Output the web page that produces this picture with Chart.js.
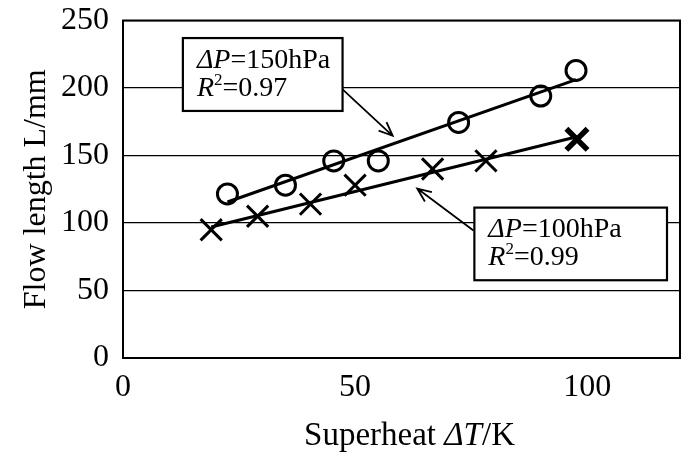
<!DOCTYPE html>
<html>
<head>
<meta charset="utf-8">
<script src="https://cdn.jsdelivr.net/npm/chart.js@4.4.1/dist/chart.umd.min.js"></script>
<style>
	html, body { margin: 0; padding: 0; background: #fff; overflow: hidden; }
	canvas { display: block; }
</style>
</head>
<body>
<canvas id="chart" width="688" height="457"></canvas>
<script>
// values
const dp150X = [22.5, 35, 45.4, 55, 72.3, 90, 97.6];
const dp150Y = [121.5, 128, 146, 146, 174.5, 194, 213];
const dp100X = [19, 29, 40.4, 50, 66.7, 78.2, 97.8];
const dp100Y = [95, 105, 114, 128, 140, 146, 162];
const xTicks = [0, 50, 100];
const yTicks = [0, 50, 100, 150, 200, 250];
const xTitle = [{ t: 'Superheat ' }, { t: 'ΔT', i: true }, { t: '/K' }];
const yTitle = 'Flow length L/mm';
const noteLabels = [
	[[{ t: 'ΔP', i: true }, { t: '=150hPa' }], [{ t: 'R', i: true }, { t: '2', sup: true }, { t: '=0.97' }]],
	[[{ t: 'ΔP', i: true }, { t: '=100hPa' }], [{ t: 'R', i: true }, { t: '2', sup: true }, { t: '=0.99' }]]
];

const SERIF = '"Liberation Serif", "Times New Roman", serif';
const PLOT_RIGHT = 680; // right edge of the frame in the original

function toPoints(xs, ys) {
	return xs.map((x, i) => ({ x: x, y: ys[i] }));
}

// least squares line, like the excel trendline
function trend(xs, ys) {
	const n = xs.length;
	const mx = xs.reduce((a, b) => a + b, 0) / n;
	const my = ys.reduce((a, b) => a + b, 0) / n;
	let sxy = 0, sxx = 0;
	for (let i = 0; i < n; i++) {
		sxy += (xs[i] - mx) * (ys[i] - my);
		sxx += (xs[i] - mx) * (xs[i] - mx);
	}
	const b = sxy / sxx;
	const a = my - b * mx;
	const x0 = Math.min(...xs), x1 = Math.max(...xs);
	return [{ x: x0, y: a + b * x0 }, { x: x1, y: a + b * x1 }];
}

// draws a run of text pieces, italic / superscript per piece
function drawRich(ctx, segs, x, y, size) {
	segs.forEach(seg => {
		const s = seg.sup ? Math.round(size * 0.6) : size;
		ctx.font = (seg.i ? 'italic ' : '') + s + 'px ' + SERIF;
		ctx.fillText(seg.t, x, seg.sup ? y - size * 0.3 : y);
		x += ctx.measureText(seg.t).width;
	});
}

function richWidth(ctx, segs, size) {
	let w = 0;
	segs.forEach(seg => {
		ctx.font = (seg.i ? 'italic ' : '') + size + 'px ' + SERIF;
		w += ctx.measureText(seg.t).width;
	});
	return w;
}

// boxes + arrows, placed in data units
const notes = [
	{ lines: noteLabels[0], box: [12.9, 237, 47.3, 183], from: [47.3, 199], to: [58.1, 164.6] },
	{ lines: noteLabels[1], box: [75.7, 111.4, 117.2, 57.6], from: [75.5, 94.5], to: [63.4, 125.5] }
];

const frameAndNotes = {
	id: 'frameAndNotes',
	afterLayout(chart) {
		// chart.js keeps a gap on the right for the tick labels, stretch the x scale out
		const xs = chart.scales.x;
		chart.chartArea.right = PLOT_RIGHT;
		chart.chartArea.width = PLOT_RIGHT - chart.chartArea.left;
		xs.right = PLOT_RIGHT;
		xs.width = PLOT_RIGHT - xs.left;
		xs.configure();
		const ys = chart.scales.y;
		ys.configure();
	},
	afterDatasetsDraw(chart) {
		const ctx = chart.ctx;
		const a = chart.chartArea;
		const xs = chart.scales.x, ys = chart.scales.y;

		ctx.save();
		ctx.strokeStyle = '#000';
		ctx.lineWidth = 2;
		ctx.strokeRect(a.left, a.top, a.right - a.left, a.bottom - a.top);

		notes.forEach(n => {
			// arrow
			const fx = xs.getPixelForValue(n.from[0]), fy = ys.getPixelForValue(n.from[1]);
			const tx = xs.getPixelForValue(n.to[0]), ty = ys.getPixelForValue(n.to[1]);
			const ang = Math.atan2(ty - fy, tx - fx);
			ctx.lineWidth = 1.8;
			ctx.beginPath();
			ctx.moveTo(fx, fy);
			ctx.lineTo(tx, ty);
			const head = 15;
			ctx.moveTo(tx - head * Math.cos(ang - 0.4), ty - head * Math.sin(ang - 0.4));
			ctx.lineTo(tx, ty);
			ctx.lineTo(tx - head * Math.cos(ang + 0.4), ty - head * Math.sin(ang + 0.4));
			ctx.stroke();

			// box
			const bl = xs.getPixelForValue(n.box[0]), bt = ys.getPixelForValue(n.box[1]);
			const br = xs.getPixelForValue(n.box[2]), bb = ys.getPixelForValue(n.box[3]);
			ctx.fillStyle = '#fff';
			ctx.fillRect(bl, bt, br - bl, bb - bt);
			ctx.lineWidth = 2.2;
			ctx.strokeRect(bl, bt, br - bl, bb - bt);

			ctx.fillStyle = '#000';
			ctx.textBaseline = 'middle';
			ctx.textAlign = 'left';
			const mid = (bt + bb) / 2;
			n.lines.forEach((line, li) => {
				drawRich(ctx, line, bl + 14, mid + (li === 0 ? -14 : 14), 28);
			});
		});

		// x axis title, drawn here so the ΔT can be italic
		ctx.fillStyle = '#000';
		ctx.textBaseline = 'alphabetic';
		ctx.textAlign = 'left';
		const tw = richWidth(ctx, xTitle, 33);
		drawRich(ctx, xTitle, (a.left + a.right) / 2 + 8 - tw / 2, 445, 33);
		ctx.restore();
	}
};

const tickFont = { family: SERIF, size: 32 };
const titleFont = { family: SERIF, size: 32 };

new Chart(document.getElementById('chart'), {
	type: 'scatter',
	data: {
		datasets: [
			{
				label: 'trend 150hPa',
				data: trend(dp150X, dp150Y),
				showLine: true,
				borderColor: '#000',
				borderWidth: 3,
				pointRadius: 0
			},
			{
				label: 'trend 100hPa',
				data: trend(dp100X, dp100Y),
				showLine: true,
				borderColor: '#000',
				borderWidth: 3,
				pointRadius: 0
			},
			{
				label: 'ΔP=150hPa',
				data: toPoints(dp150X, dp150Y),
				pointStyle: 'circle',
				pointRadius: 10,
				borderColor: '#000',
				backgroundColor: 'rgba(0,0,0,0)',
				borderWidth: 3
			},
			{
				label: 'ΔP=100hPa',
				data: toPoints(dp100X, dp100Y),
				pointStyle: 'crossRot',
				pointRadius: 15,
				borderColor: '#000',
				backgroundColor: 'rgba(0,0,0,0)',
				borderWidth: [3, 3, 3, 3, 3, 3, 5.5]
			}
		]
	},
	options: {
		responsive: false,
		animation: false,
		clip: false,
		layout: { padding: { top: 19, right: 8, left: 0, bottom: 0 } },
		plugins: {
			legend: { display: false },
			tooltip: { enabled: false }
		},
		scales: {
			x: {
				type: 'linear',
				min: 0,
				max: 120,
				afterBuildTicks: s => { s.ticks = xTicks.map(v => ({ value: v })); },
				afterFit: s => {
					s.height = 99;
					s.paddingLeft = 0;
					s.paddingRight = 0;
				},
				grid: { display: false, drawTicks: false },
				border: { display: true, color: '#000', width: 2 },
				ticks: { font: tickFont, color: '#000', padding: 10, maxRotation: 0 }
			},
			y: {
				type: 'linear',
				min: 0,
				max: 250,
				afterBuildTicks: s => { s.ticks = yTicks.map(v => ({ value: v })); },
				afterFit: s => {
					s.width = 123;
					s.paddingTop = 0;
					s.paddingBottom = 0;
				},
				grid: { color: '#000', lineWidth: 1.3, drawTicks: false },
				border: { display: true, color: '#000', width: 2 },
				ticks: { font: tickFont, color: '#000', padding: 14 },
				title: {
					display: true,
					text: yTitle,
					font: titleFont,
					color: '#000',
					padding: { top: 17, bottom: 0 }
				}
			}
		}
	},
	plugins: [frameAndNotes]
});
</script>
</body>
</html>
